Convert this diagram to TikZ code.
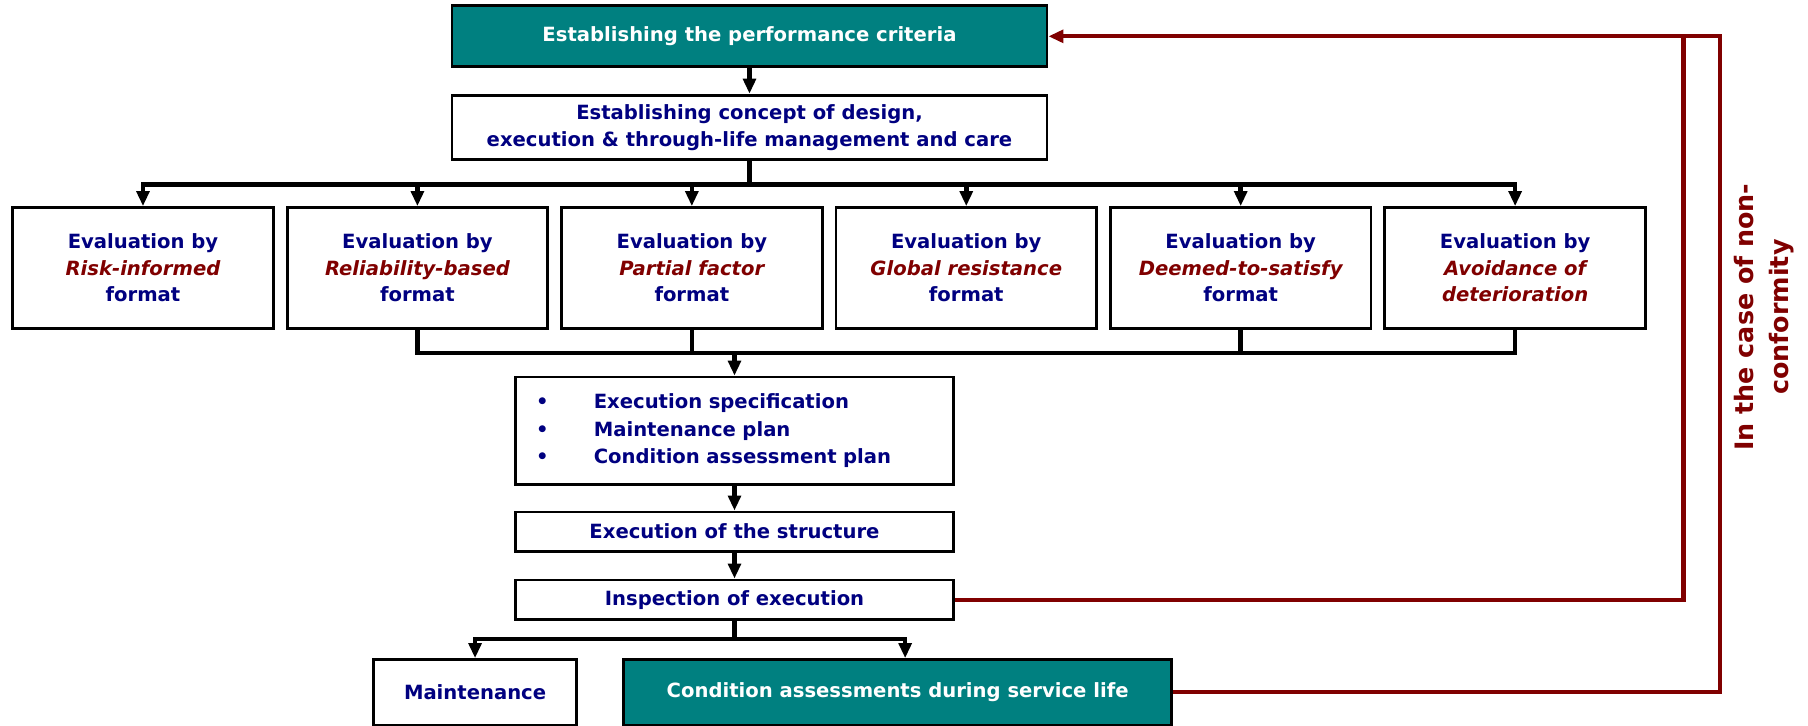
\documentclass[tikz,border=0pt]{standalone}
\usepackage{fontspec}
\setmainfont{DejaVu Sans}
\usetikzlibrary{arrows.meta,calc,positioning}

\definecolor{tealfill}{RGB}{0,128,128}
\definecolor{navytext}{RGB}{0,0,128}
\definecolor{darkred}{RGB}{128,0,0}

\newcommand{\fmt}[1]{{\color{darkred}\itshape #1}}

\begin{document}
\begin{tikzpicture}[x=1pt, y=1pt, >={Triangle[length=13pt,width=11pt]},
    box/.style={draw, line width=2.5pt, fill=white, text=navytext, align=center, inner sep=0pt, font=\fontsize{17}{23}\selectfont\bfseries},
    hibox/.style={box, fill=tealfill, text=white},
    evbox/.style={box, minimum width=226pt, minimum height=105pt},
    link/.style={line width=4pt},
    fback/.style={draw=darkred, line width=3.5pt}]

    \useasboundingbox (0,0) rectangle (1568,-629);

    \node[hibox, minimum width=516pt, minimum height=53pt] (crit) at (650,-31.5) {Establishing the performance criteria};
    \node[box, minimum width=516pt, minimum height=56pt, below = 22pt of crit] (concept) {Establishing concept of design,\\execution \& through-life management and care};

    \node[evbox] (ev1) at (124,-232.5) {Evaluation by\\\fmt{Risk-informed}\\format};
    \node[evbox, right = 9.5pt of ev1] (ev2) {Evaluation by\\\fmt{Reliability-based}\\format};
    \node[evbox, right = 9.5pt of ev2] (ev3) {Evaluation by\\\fmt{Partial factor}\\format};
    \node[evbox, right = 9.5pt of ev3] (ev4) {Evaluation by\\\fmt{Global resistance}\\format};
    \node[evbox, right = 9.5pt of ev4] (ev5) {Evaluation by\\\fmt{Deemed-to-satisfy}\\format};
    \node[evbox, right = 9.5pt of ev5] (ev6) {Evaluation by\\\fmt{Avoidance of}\\\fmt{deterioration}};

    \node[box, align=left, text width=344pt, inner xsep=18pt, minimum height=93pt, font=\fontsize{17}{24}\selectfont\bfseries] (spec) at (637,-373.5)
        {\makebox[50pt][l]{\textbullet}Execution specification\\\makebox[50pt][l]{\textbullet}Maintenance plan\\\makebox[50pt][l]{\textbullet}Condition assessment plan};
    \node[box, minimum width=380pt, minimum height=34pt, below = 21.5pt of spec] (exec) {Execution of the structure};
    \node[box, minimum width=380pt, minimum height=34pt, below = 22.5pt of exec] (insp) {Inspection of execution};

    \node[box, minimum width=176pt, minimum height=57pt] (maint) at (412,-600.5) {Maintenance};
    \node[hibox, minimum width=475pt, minimum height=57pt] (cond) at (778.5,-600.5) {Condition assessments during service life};

    \node[rotate=90, align=center, text=darkred, font=\fontsize{22}{31}\selectfont\bfseries] (nonconf) at (1530,-275) {In the case of non-\\conformity};

    % main chain
    \draw[link,->] (crit) -- (concept);

    \coordinate (tbus) at ($(concept.south)+(0,-20)$);
    \draw[link] (concept) -- (tbus);
    \draw[link, line cap=rect] (ev1 |- tbus) -- (ev6 |- tbus);
    \draw[link,->] (ev1 |- tbus) -- (ev1);
    \draw[link,->] (ev2 |- tbus) -- (ev2);
    \draw[link,->] (ev3 |- tbus) -- (ev3);
    \draw[link,->] (ev4 |- tbus) -- (ev4);
    \draw[link,->] (ev5 |- tbus) -- (ev5);
    \draw[link,->] (ev6 |- tbus) -- (ev6);

    \coordinate (bbus) at ($(ev2.south)+(0,-20)$);
    \draw[link] (ev2.south) -- (ev2 |- bbus) -- (ev6 |- bbus) -- (ev6.south);
    \draw[link] (ev3.south) -- (ev3 |- bbus);
    \draw[link] (ev5.south) -- (ev5 |- bbus);
    \draw[link,->] (spec |- bbus) -- (spec);

    \draw[link,->] (spec) -- (exec);
    \draw[link,->] (exec) -- (insp);

    \coordinate (ibus) at ($(insp.south)+(0,-16)$);
    \coordinate (condin) at ($(cond.north)+(6.5,0)$);
    \draw[link] (insp) -- (ibus);
    \draw[link, line cap=rect] (maint |- ibus) -- (condin |- ibus);
    \draw[link,->] (maint |- ibus) -- (maint);
    \draw[link,->] (condin |- ibus) -- (condin);

    % feedback loops
    \coordinate (innerup) at (1460,0);
    \coordinate (outerup) at (1492,0);
    \draw[fback] (insp.east) -| (innerup |- crit.east);
    \draw[fback,->] (cond.east) -| (outerup |- crit.east) -- (crit.east);

\end{tikzpicture}
\end{document}
